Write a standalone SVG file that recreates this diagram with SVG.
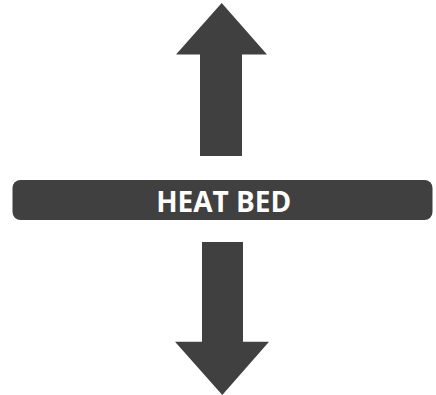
<svg xmlns="http://www.w3.org/2000/svg" width="436" height="395" viewBox="0 0 436 395">
<style>
.shape{fill:#404040}
.label{fill:#ffffff;font-family:"Open Sans","Liberation Sans",sans-serif;font-weight:bold;font-size:28px}
</style>
<rect width="436" height="395" fill="#ffffff"/>
<g id="connectors">
<polygon id="arrow-up" class="shape" points="221.7,3 267,54.5 242,54.5 242,156 200,156 200,54.5 176,54.5"/>
<polygon id="arrow-down" class="shape" points="202,242 243,242 243,341.7 269,341.7 222.3,395 175,341.7 202,341.7"/>
</g>
<g id="heat-bed">
<rect class="shape" x="12.5" y="180" width="420" height="40" rx="8" ry="8"/>
<text class="label" x="223.7" y="211.5" text-anchor="middle">HEAT BED</text>
</g>
</svg>
